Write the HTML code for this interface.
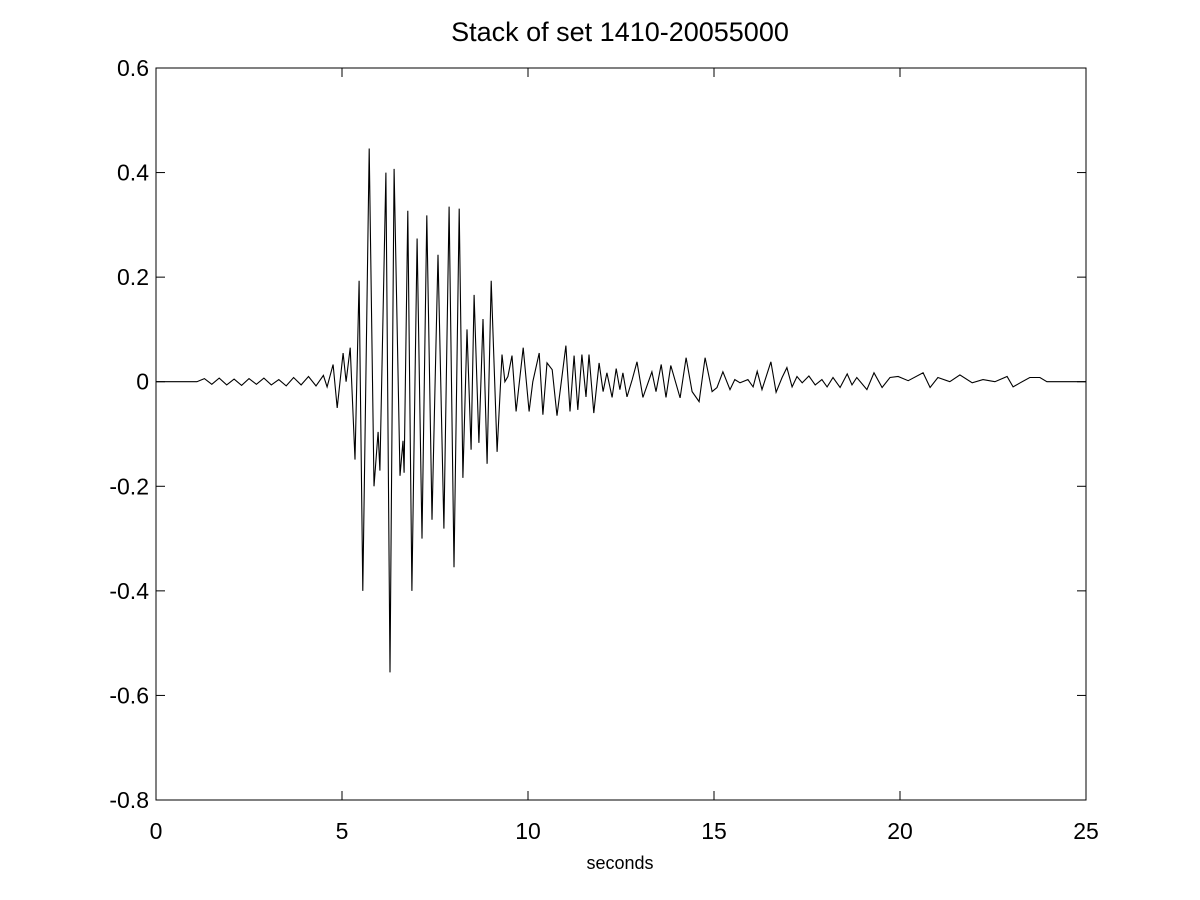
<!DOCTYPE html>
<html><head><meta charset="utf-8"><style>
html,body{margin:0;padding:0;background:#fff;}
svg{display:block;font-family:"Liberation Sans",sans-serif;}
</style></head><body>
<svg id="chart" width="1200" height="900" viewBox="0 0 1200 900">
<rect x="0" y="0" width="1200" height="900" fill="#fff"/>
<text x="620" y="41" text-anchor="middle" font-size="27" fill="#000">Stack of set 1410-20055000</text>
<text x="620" y="869" text-anchor="middle" font-size="18" fill="#000">seconds</text>
<g id="axes"></g>
<g id="plot"></g>
</svg>
<script>
const xTicks = [0, 5, 10, 15, 20, 25];
const yTicks = [0.6, 0.4, 0.2, 0, -0.2, -0.4, -0.6, -0.8];
const yTickLabels = ["0.6", "0.4", "0.2", "0", "-0.2", "-0.4", "-0.6", "-0.8"];
const times = [0,1.1,1.3,1.5,1.7,1.9,2.1,2.3,2.5,2.7,2.9,3.1,3.3,3.5,3.7,3.9,4.1,4.3,4.5,4.6,
4.76,4.87,5.03,5.11,5.22,5.35,5.46,5.56,5.73,5.86,5.97,6.02,6.18,6.29,6.40,6.56,6.64,6.67,6.77,6.88,
7.02,7.15,7.28,7.42,7.58,7.74,7.88,8.01,8.15,8.25,8.36,8.47,8.55,8.68,8.79,8.90,9.01,9.17,9.30,9.38,
9.46,9.57,9.68,9.87,10.03,10.13,10.30,10.40,10.51,10.65,10.78,11.02,11.13,11.24,11.34,11.45,11.56,11.64,11.77,11.91,
12.02,12.12,12.26,12.37,12.47,12.55,12.66,12.80,12.93,13.09,13.33,13.44,13.58,13.71,13.84,14.09,14.25,14.41,14.60,14.76,
14.95,15.08,15.24,15.43,15.56,15.70,15.91,16.05,16.16,16.29,16.53,16.67,16.83,16.96,17.10,17.23,17.37,17.55,17.72,17.90,
18.04,18.20,18.39,18.58,18.71,18.84,19.11,19.30,19.52,19.73,19.95,20.22,20.62,20.81,21.02,21.34,21.61,21.94,22.23,22.55,
22.88,23.04,23.23,23.49,23.76,23.95,25];
const amplitudes = [0,0,0.006,-0.005,0.007,-0.006,0.005,-0.007,0.006,-0.005,0.007,-0.006,0.004,-0.008,0.008,-0.006,0.01,-0.008,0.012,-0.01,
0.033,-0.05,0.055,0,0.065,-0.149,0.193,-0.40,0.446,-0.20,-0.096,-0.17,0.40,-0.556,0.407,-0.18,-0.113,-0.174,0.327,-0.40,
0.274,-0.30,0.318,-0.264,0.243,-0.281,0.335,-0.355,0.331,-0.184,0.10,-0.13,0.166,-0.117,0.12,-0.157,0.193,-0.134,0.052,0,
0.01,0.05,-0.057,0.065,-0.057,0,0.055,-0.063,0.036,0.023,-0.065,0.069,-0.057,0.05,-0.054,0.052,-0.029,0.052,-0.06,0.036,
-0.019,0.017,-0.03,0.025,-0.015,0.017,-0.029,0.004,0.038,-0.03,0.019,-0.019,0.033,-0.03,0.031,-0.031,0.046,-0.019,-0.038,0.046,
-0.019,-0.011,0.019,-0.015,0.004,-0.002,0.004,-0.01,0.02,-0.015,0.038,-0.02,0.008,0.027,-0.01,0.01,-0.002,0.011,-0.006,0.004,
-0.01,0.008,-0.011,0.015,-0.006,0.008,-0.015,0.017,-0.011,0.008,0.01,0.002,0.017,-0.011,0.008,0,0.013,-0.002,0.004,0,
0.01,-0.01,-0.002,0.008,0.008,0,0];

const L=156,R=1086,T=68,B=800;
const xMin=0,xMax=25,yMin=-0.8,yMax=0.6;
function sx(v){return L+(v-xMin)/(xMax-xMin)*(R-L);}
function sy(v){return B-(v-yMin)/(yMax-yMin)*(B-T);}
const NS="http://www.w3.org/2000/svg";
const axes=document.getElementById('axes');
const plot=document.getElementById('plot');
function mk(tag,attrs,parent){const e=document.createElementNS(NS,tag);for(const k in attrs)e.setAttribute(k,attrs[k]);parent.appendChild(e);return e;}

const frame=mk('rect',{x:L,y:T,width:R-L,height:B-T,fill:'none',stroke:'#000','stroke-width':1},axes);



xTicks.forEach(function(v){
  const x=sx(v);
  const t1=mk('line',{x1:x,y1:B,x2:x,y2:B-9,stroke:'#000'},axes);
  
  
  const t2=mk('line',{x1:x,y1:T,x2:x,y2:T+9,stroke:'#000'},axes);
  
  
  const lb=mk('text',{x:x,y:B+39,'text-anchor':'middle','font-size':23,fill:'#000'},axes);
  lb.textContent=String(v);
  
  
});
yTicks.forEach(function(v,i){
  const y=sy(v);
  const t1=mk('line',{x1:L,y1:y,x2:L+9,y2:y,stroke:'#000'},axes);
  
  
  const t2=mk('line',{x1:R,y1:y,x2:R-9,y2:y,stroke:'#000'},axes);
  
  
  const lb=mk('text',{x:L-7,y:y+8,'text-anchor':'end','font-size':23,fill:'#000'},axes);
  lb.textContent=yTickLabels[i];
  
  
});

let d='';
times.forEach(function(t,i){d+=(i?'L':'M')+sx(t).toFixed(1)+','+sy(amplitudes[i]).toFixed(1);});
const line=mk('path',{d:d,fill:'none',stroke:'#000','stroke-width':1.1,'stroke-linejoin':'miter'},plot);


</script>
</body></html>
